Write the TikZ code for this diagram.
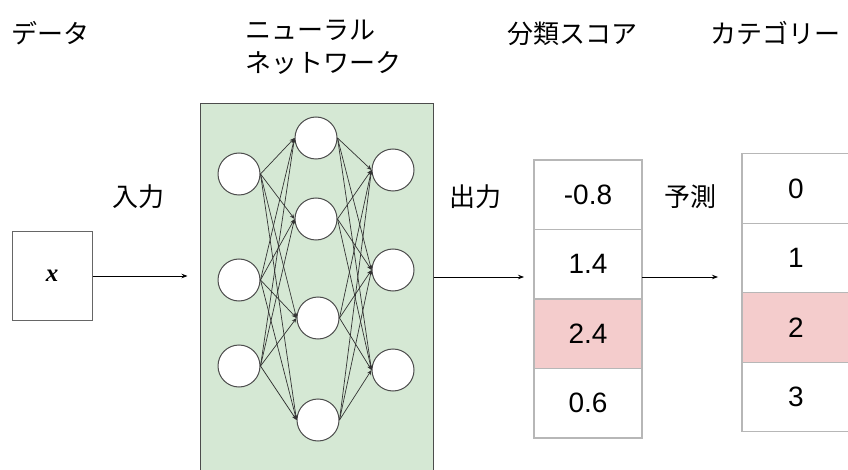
\documentclass[tikz,border=0pt]{standalone}
\usepackage{fontspec}
\setmainfont{Liberation Sans}
\newfontfamily\jp{Noto Sans CJK JP}
\newfontfamily\tms{Liberation Serif}
\usetikzlibrary{arrows.meta,positioning}

\definecolor{netgreen}{HTML}{D5E8D4}
\definecolor{hitpink}{HTML}{F4CCCC}
\definecolor{cellgray}{HTML}{B7B7B7}

\tikzset{
  lbl/.style={font=\jp\fontsize{26}{33}\selectfont, inner sep=0pt},
  neuron/.style={circle, draw=black!70, line width=1pt, fill=white, minimum size=42pt, inner sep=0pt},
  conn/.style={black!80, line width=0.7pt, -{Stealth[length=5pt,width=4pt]}},
  flow/.style={black, line width=0.8pt, -{Stealth[length=6pt,width=4.5pt]}},
  cell/.style={draw=cellgray, line width=1.2pt, minimum width=108pt, minimum height=69.5pt,
    inner sep=0pt, outer sep=0pt, font=\fontsize{28}{28}\selectfont}
}

\begin{document}
\begin{tikzpicture}[x=1pt,y=-1pt]
    \useasboundingbox (0,0) rectangle (848,470);
    \clip (0,0) rectangle (848,470);

    % column titles
    \node[lbl, anchor=west]             (tdata) at (11,33)  {データ};
    \node[lbl, anchor=west, align=left] (tnet) at (245,47) {ニューラル\\ネットワーク};
    \node[lbl]                          (tscore) at (572,34) {分類スコア};
    \node[lbl]                          (tcat)   at (775,33) {カテゴリー};

    % input data
    \node[draw=black!60, line width=1pt, minimum width=80pt, minimum height=88pt]
        (xbox) at (52,276) {\tms\bfseries\itshape\fontsize{25}{25}\selectfont x};

    % network block with its three layers
    \node[draw=black!70, line width=1pt, fill=netgreen, minimum width=233pt, minimum height=372pt]
        (nn) at (316.5,290) {};
    \node[neuron] (in1) at (239,174) {};
    \node[neuron] (in2) at (239,280) {};
    \node[neuron] (in3) at (239,366) {};
    \node[neuron] (h1)  at (316,138) {};
    \node[neuron] (h2)  at (316,219) {};
    \node[neuron] (h3)  at (318,318) {};
    \node[neuron] (h4)  at (318,420) {};
    \node[neuron] (out1) at (393,170) {};
    \node[neuron] (out2) at (393,270) {};
    \node[neuron] (out3) at (393,370) {};
    \foreach \i in {1,2,3}
      \foreach \j in {1,...,4} {
        \draw[conn] (in\i.east) -- (h\j.west);
        \draw[conn] (h\j.east) -- (out\i.west);
      }

    % score column
    \node[cell] (s1) at (588,194.75) {-0.8};
    \node[cell] (s2) [below=0pt of s1] {1.4};
    \node[cell, fill=hitpink] (s3) [below=0pt of s2] {2.4};
    \node[cell] (s4) [below=0pt of s3] {0.6};

    % category column
    \node[cell] (c1) at (796,188.6) {0};
    \node[cell] (c2) [below=0pt of c1] {1};
    \node[cell, fill=hitpink] (c3) [below=0pt of c2] {2};
    \node[cell] (c4) [below=0pt of c3] {3};

    % arrows between the stages
    \coordinate (mid) at (0,277);
    \draw[flow, shorten >=12pt] (xbox.east) -- (xbox.east -| nn.west);
    \draw[flow, shorten >=10pt] (nn.east |- mid) -- (s2.west |- mid);
    \draw[flow, shorten >=24pt] (s2.east |- mid) -- (c2.west |- mid);
    \node[lbl] (lin)   at (138,197) {入力};
    \node[lbl] (lout)  at (475,197) {出力};
    \node[lbl] (lpred) at (690,197) {予測};
\end{tikzpicture}
\end{document}
